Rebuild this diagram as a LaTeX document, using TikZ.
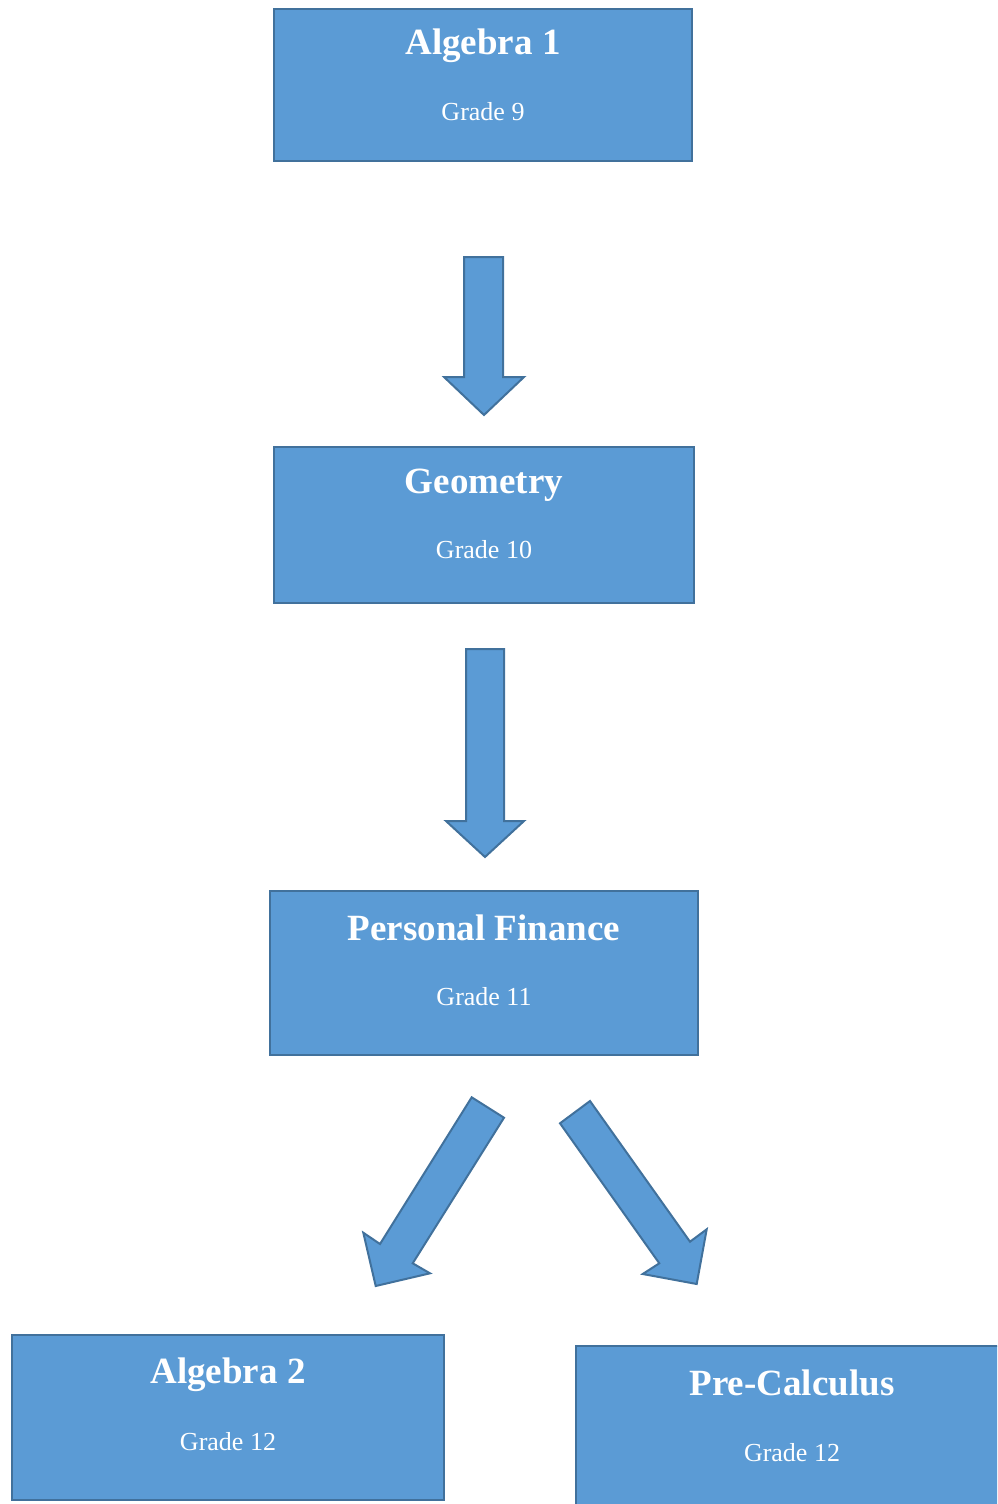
\documentclass[tikz,border=0pt]{standalone}
\usepackage{fontspec}
\setmainfont{Liberation Serif}
\definecolor{boxfill}{HTML}{5B9BD5}
\definecolor{boxline}{HTML}{41719C}
\tikzset{
  box/.style={draw=boxline, fill=boxfill, line width=2pt, inner sep=0pt},
  title/.style={anchor=base, text=white, font=\fontsize{37}{40}\selectfont\bfseries, inner sep=0pt},
  grade/.style={anchor=base, text=white, font=\fontsize{26}{30}\selectfont, inner sep=0pt},
  blockarrow/.style={draw=boxline, fill=boxfill, line width=2pt, line join=miter}
}
\begin{document}
\begin{tikzpicture}[x=1pt,y=-1pt]
\useasboundingbox (0,0) rectangle (997,1504);
\clip (0,0) rectangle (997,1504);
% boxes
\node[box, minimum width=418pt, minimum height=152pt] (b1) at (483,85) {};
\node[title] (t1) at (483,55) {Algebra 1};
\node[grade] (g1) at (483,120) {Grade 9};

\node[box, minimum width=420pt, minimum height=156pt] (b2) at (484,525) {};
\node[title] (t2) at (484,493) {Geometry};
\node[grade] (g2) at (484,558) {Grade 10};

\node[box, minimum width=428pt, minimum height=164pt] (b3) at (484,973) {};
\node[title] (t3) at (484,940) {Personal Finance};
\node[grade] (g3) at (484,1005) {Grade 11};

\node[box, minimum width=432pt, minimum height=165pt] (b4) at (228,1417.5) {};
\node[title] (t4) at (228,1383) {Algebra 2};
\node[grade] (g4) at (228,1450) {Grade 12};

\node[box, minimum width=432pt, minimum height=164pt] (b5) at (792,1428) {};
\node[title] (t5) at (792,1395) {Pre-Calculus};
\node[grade] (g5) at (792,1461) {Grade 12};

% block arrows
\draw[blockarrow] (464,257) -- (503,257) -- (503,377) -- (524,377) -- (484,415)
  -- (444,377) -- (464,377) -- cycle;
\draw[blockarrow] (466,649) -- (504,649) -- (504,821) -- (524,821) -- (485,857)
  -- (446,821) -- (466,821) -- cycle;
\draw[blockarrow] (471.7,1097.3) -- (504,1117.7) -- (412.7,1263.3) -- (430,1273.3)
  -- (375.7,1286) -- (363.3,1232.7) -- (380,1244) -- cycle;
\draw[blockarrow] (590,1101) -- (560,1123.3) -- (659.3,1263.3) -- (642.7,1274)
  -- (696.7,1284) -- (706.7,1229.3) -- (690,1241.7) -- cycle;
\end{tikzpicture}
\end{document}
